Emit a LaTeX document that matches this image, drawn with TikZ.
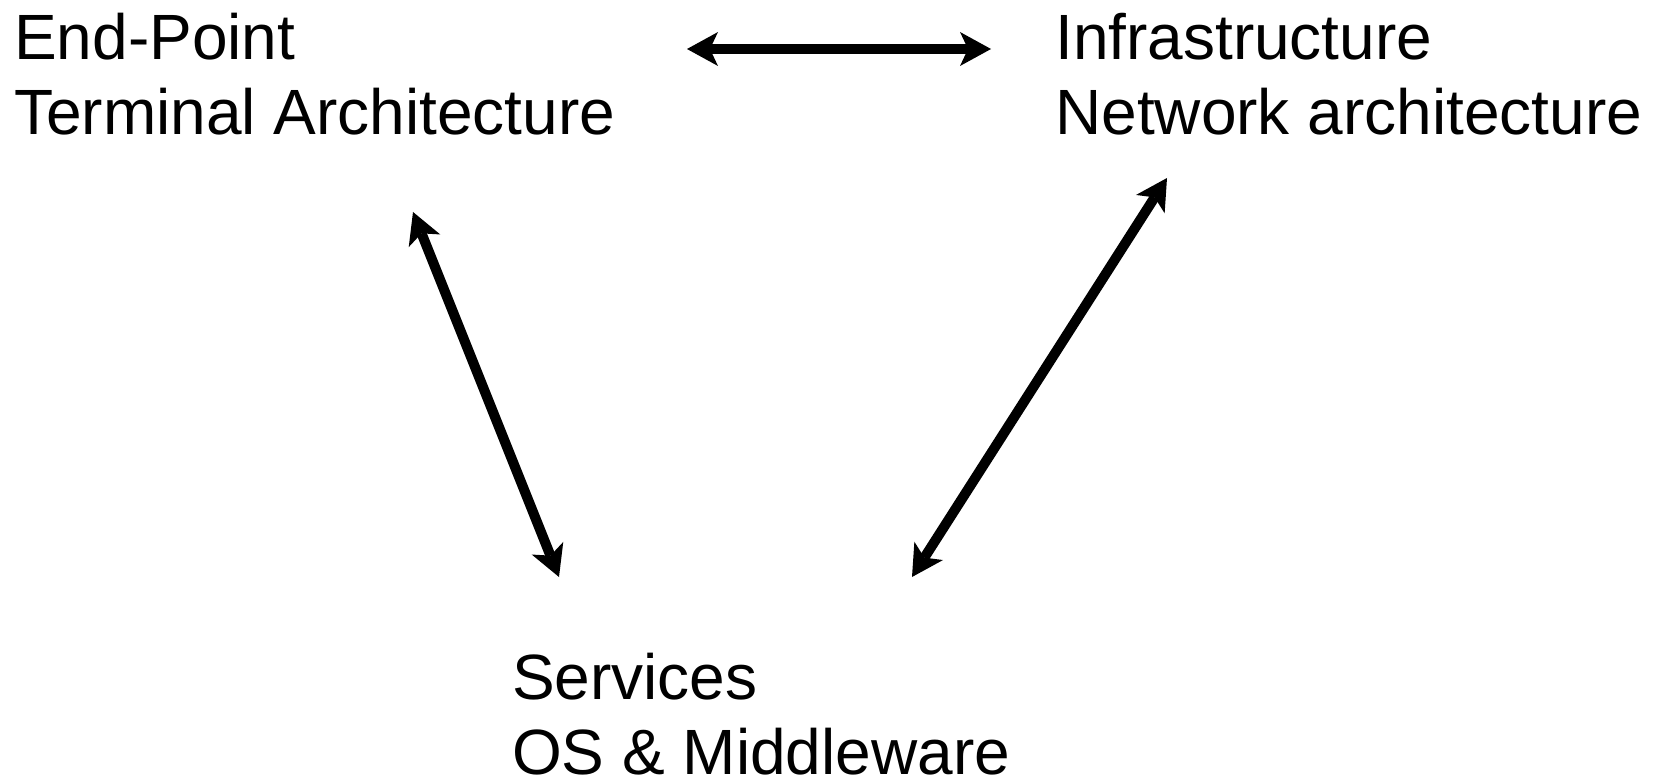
\documentclass[tikz,border=0pt]{standalone}
\usepackage{fontspec}
\setmainfont{Liberation Sans}
\usetikzlibrary{arrows.meta}
\tikzset{
  lbl/.style={anchor=base west, inner sep=0pt, align=left, font=\fontsize{64pt}{75pt}\selectfont},
  biarrow/.style={line width=10pt, {Stealth[length=31pt,width=34pt,inset=8pt,line width=0pt]}-{Stealth[length=31pt,width=34pt,inset=8pt,line width=0pt]}}
}
\begin{document}
\begin{tikzpicture}[x=1pt,y=-1pt]
\useasboundingbox (0,0) rectangle (1658,778);
\node[lbl] (term) at (14,135) {End-Point\\Terminal Architecture};
\node[lbl] (infra) at (1055,135) {Infrastructure\\Network architecture};
\node[lbl] (serv) at (512,774) {Services\\OS \& Middleware};
\coordinate (tR) at (687,49);
\coordinate (iL) at (991,49);
\coordinate (tB) at (413,212);
\coordinate (sL) at (559,577);
\coordinate (iB) at (1167,178);
\coordinate (sR) at (912,577);
\draw[biarrow] (tR) -- (iL);
\draw[biarrow] (tB) -- (sL);
\draw[biarrow] (iB) -- (sR);
\end{tikzpicture}
\end{document}
